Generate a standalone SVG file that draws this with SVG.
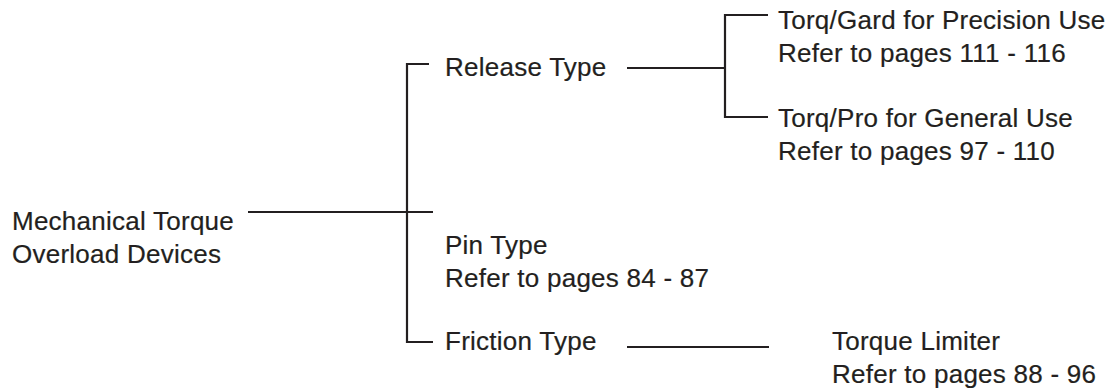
<svg xmlns="http://www.w3.org/2000/svg" width="1116" height="388" viewBox="0 0 1116 388">
<style>
text{font-family:"Liberation Sans",Arial,sans-serif;font-size:26px;fill:#231f20;letter-spacing:0.25px;stroke:#231f20;stroke-width:0.2px}
.c{stroke:#231f20;stroke-width:2.2;fill:none}
</style>
<rect width="1116" height="388" fill="#fff"/>
<g id="connectors">
<path class="c" d="M248 212H433"/>
<path class="c" d="M429 64H407V342H433"/>
<path class="c" d="M627 68H725"/>
<path class="c" d="M768 15H725V117H768"/>
<path class="c" d="M627 347H769"/>
</g>
<g id="root"><text x="12" y="230">Mechanical Torque</text><text x="12" y="263">Overload Devices</text></g>
<g id="release"><text x="445" y="76">Release Type</text></g>
<g id="torqgard"><text x="778" y="29">Torq/Gard for Precision Use</text><text x="778" y="62">Refer to pages 111 - 116</text></g>
<g id="torqpro"><text x="778" y="127">Torq/Pro for General Use</text><text x="778" y="160">Refer to pages 97 - 110</text></g>
<g id="pin"><text x="445" y="254">Pin Type</text><text x="445" y="287">Refer to pages 84 - 87</text></g>
<g id="friction"><text x="445" y="350">Friction Type</text></g>
<g id="limiter"><text x="832" y="350">Torque Limiter</text><text x="832" y="383">Refer to pages 88 - 96</text></g>
</svg>
